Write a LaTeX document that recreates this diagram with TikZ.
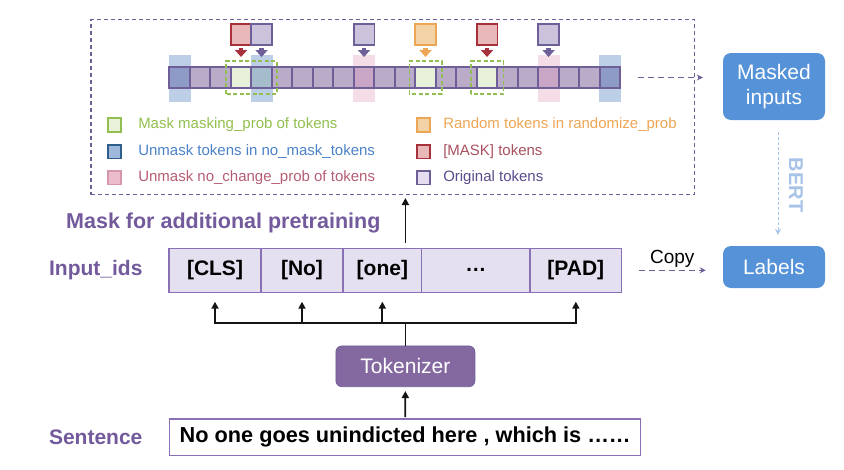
\documentclass[tikz,border=0pt]{standalone}
\usepackage{fontspec}
\setmainfont{Liberation Sans}
\usepackage{tikz}
\usetikzlibrary{arrows.meta, positioning, calc}
\definecolor{mypurple}{RGB}{115,90,156}
\definecolor{mydark}{RGB}{20,20,20}
\definecolor{tokline}{RGB}{111,95,153}
\definecolor{tokfill}{RGB}{186,172,201}
\definecolor{tokblue}{RGB}{142,155,199}
\definecolor{tokteal}{RGB}{164,188,203}
\definecolor{tokpink}{RGB}{201,166,197}
\definecolor{tokgreen}{RGB}{231,240,217}
\definecolor{hlblue}{RGB}{188,207,231}
\definecolor{hlpink}{RGB}{244,221,230}
\definecolor{mygreen}{RGB}{146,191,80}
\definecolor{myblue}{RGB}{74,130,200}
\definecolor{mydarkblue}{RGB}{47,93,140}
\definecolor{mypink}{RGB}{181,93,115}
\definecolor{myorange}{RGB}{237,166,85}
\definecolor{myred}{RGB}{167,48,58}
\definecolor{maskred}{RGB}{169,80,94}
\definecolor{origpurple}{RGB}{91,75,140}
\definecolor{hdrgreen}{RGB}{234,242,220}
\definecolor{hdrblue}{RGB}{159,185,220}
\definecolor{hdrpink}{RGB}{235,188,204}
\definecolor{linepink}{RGB}{214,150,172}
\definecolor{hdrorange}{RGB}{243,211,165}
\definecolor{hdrred}{RGB}{233,184,184}
\definecolor{hdrpurple}{RGB}{228,222,240}
\definecolor{sqpurple}{RGB}{203,194,220}
\definecolor{rowline}{RGB}{138,112,181}
\definecolor{rowfill}{RGB}{229,224,240}
\definecolor{tokzfill}{RGB}{132,105,161}
\definecolor{outblue}{RGB}{86,146,216}
\definecolor{bertblue}{RGB}{167,195,231}
\tikzset{
  tok/.style={rectangle, draw=tokline, fill=tokfill, line width=1.8pt,
    minimum width=20.5pt, minimum height=21.6pt, inner sep=0pt, outer sep=0pt},
  hl/.style={rectangle, minimum width=22pt, minimum height=46.5pt,
    inner sep=0pt, outer sep=0pt},
  pick/.style={rectangle, line width=1.8pt, minimum size=20.7pt, inner sep=0pt},
  pickarrow/.style={-{Triangle[width=12pt,length=7pt]}, line width=4.5pt,
    shorten <=2pt, shorten >=9.7pt},
  greenbox/.style={draw=mygreen, dash pattern=on 4pt off 2.5pt, line width=1.6pt},
  legsq/.style={rectangle, line width=1.6pt, minimum size=13.5pt, inner sep=0pt},
  legtext/.style={anchor=west, font=\fontsize{15}{17}\selectfont, inner sep=0pt},
  idcell/.style={rectangle, draw=rowline, fill=rowfill, line width=1.5pt,
    minimum height=44pt, inner sep=0pt, outer sep=0pt,
    font=\fontsize{21}{24}\selectfont\bfseries},
  sidelabel/.style={text=mypurple, font=\fontsize{21}{24}\selectfont\bfseries},
  outbox/.style={rectangle, fill=outblue, rounded corners=8pt, text=white,
    align=center, minimum width=102pt, font=\fontsize{21}{25}\selectfont},
  arrow/.style={-{Triangle[width=7pt,length=7pt]}, line width=1.8pt, color=mydark},
  line/.style={line width=1.8pt, color=mydark},
  dasharrow/.style={-{Stealth[width=6pt,length=6pt]}, line width=1pt,
    dash pattern=on 6pt off 4pt, color=tokline}
}

\begin{document}
\begin{tikzpicture}[x=1pt, y=-1pt, node distance=10pt and 23pt,
  tokzbox/.style={rectangle, draw=tokline, fill=tokzfill, rounded corners=6pt,
    minimum width=139pt, minimum height=40.7pt, text=white,
    font=\fontsize{21}{24}\selectfont, line width=0.8pt},
  sentbox/.style={rectangle, draw=rowline, fill=white, line width=1.5pt,
    minimum width=471pt, minimum height=36.7pt, inner sep=0pt,
    font=\fontsize{21.7}{24}\selectfont\bfseries}]
  \useasboundingbox (0,0) rectangle (844,469);

  % Masking frame
  \node[draw=tokline, dash pattern=on 4pt off 3pt, line width=1.2pt,
    minimum width=603.5pt, minimum height=175pt, outer sep=0pt] (frame) at (392.75,107) {};

  % Highlights behind the strip
  \foreach \i/\c in {0/hlblue, 4/hlblue, 21/hlblue, 9/hlpink, 18/hlpink}
    \node[hl, fill=\c] (hl\i) at ({179.55+20.5*\i}, 78.3) {};

  % Token strip
  \foreach \c [count=\i from 0] in {tokblue, tokfill, tokfill, tokgreen, tokteal,
      tokfill, tokfill, tokfill, tokfill, tokpink, tokfill, tokfill, tokgreen,
      tokfill, tokfill, tokgreen, tokfill, tokfill, tokpink, tokfill, tokfill, tokblue}
    \node[tok, fill=\c] (t\i) at ({179.55+20.5*\i}, 77.5) {};

  % Masked positions
  \draw[greenbox] ($(t3.south west)+(-5,5.5)$) rectangle ($(t4.north east)+(5,-5.5)$);
  \draw[greenbox] ($(t12.south west)+(-6,5.5)$) rectangle ($(t12.north east)+(6,-5.5)$);
  \draw[greenbox] ($(t15.south west)+(-6,5.5)$) rectangle ($(t15.north east)+(6,-5.5)$);

  % Replacement tokens
  \foreach \i/\f/\d in {3/hdrred/myred, 4/sqpurple/tokline, 9/sqpurple/tokline,
      12/hdrorange/myorange, 15/hdrred/myred, 18/sqpurple/tokline} {
    \node[pick, fill=\f, draw=\d] (p\i) at ({179.55+20.5*\i}, 34.7) {};
    \draw[pickarrow, color=\d] (p\i) -- (t\i);
  }

  % Legend
  \foreach \n/\y/\f/\d/\c/\txt in {1/125/hdrgreen/mygreen/mygreen/{Mask masking\_prob of tokens},
      2/151.7/hdrblue/mydarkblue/myblue/{Unmask tokens in no\_mask\_tokens},
      3/177.7/hdrpink/linepink/mypink/{Unmask no\_change\_prob of tokens}} {
    \node[legsq, fill=\f, draw=\d] (legL\n) at (114.5,\y) {};
    \node[legtext, text=\c, right=16pt of legL\n] (legLt\n) {\txt};
  }
  \foreach \n/\y/\f/\d/\c/\txt in {1/125/hdrorange/myorange/myorange/{Random tokens in randomize\_prob},
      2/151.7/hdrred/myred/maskred/{[MASK] tokens},
      3/177.7/hdrpurple/tokline/origpurple/{Original tokens}} {
    \node[legsq, fill=\f, draw=\d] (legR\n) at (423.5,\y) {};
    \node[legtext, text=\c, right=12pt of legR\n] (legRt\n) {\txt};
  }

  % Outputs
  \node[outbox, minimum height=67pt] (masked) at (774,86.5) {Masked\\inputs};
  \node[outbox, minimum height=42pt] (labels) at (774,267) {Labels};
  \draw[dasharrow, shorten <=18pt, shorten >=20pt] (t21.east) -- (t21.east -| masked.west);
  \draw[-{Stealth[width=6pt,length=6pt]}, line width=1pt, color=bertblue,
    dash pattern=on 3pt off 2pt, shorten <=12pt, shorten >=11pt]
    ([xshift=4pt]masked.south) -- ([xshift=4pt]labels.north)
    node[midway, xshift=18pt, yshift=-2pt, rotate=-90, text=bertblue,
      font=\fontsize{20}{24}\selectfont\bfseries] (bert) {BERT};

  % Input ids
  \node[idcell, minimum width=92pt] (cls) at (215,270.3) {[CLS]};
  \node[idcell, minimum width=82pt, right=0pt of cls] (no) {[No]};
  \node[idcell, minimum width=78.7pt, right=0pt of no] (one) {[one]};
  \node[idcell, minimum width=108.3pt, right=0pt of one] (dots) {…};
  \node[idcell, minimum width=91.7pt, right=0pt of dots] (pad) {[PAD]};
  \node[sidelabel, left=23pt of cls] (idlbl) {Input\_ids};
  \node[sidelabel, font=\fontsize{21.5}{24}\selectfont\bfseries] (masklbl) at (223.3,222.7) {Mask for additional pretraining};
  \draw[dasharrow, shorten <=17pt, shorten >=17pt] (pad.east) -- (pad.east -| labels.west)
    node[midway, above=2pt, inner sep=0pt, text=black, font=\fontsize{19}{22}\selectfont] (copy) {Copy};

  % Tokenizer and sentence
  \node[tokzbox] (tokz) at (405.4,366.3) {Tokenizer};
  \node[sentbox] (sent) at (405.2,437.3) {No one goes unindicted here , which is ……};
  \node[sidelabel, left=23pt of sent] (sentlbl) {Sentence};
  \draw[arrow, shorten <=5pt, shorten >=3.5pt] (tokz.north |- one.north) -- (tokz.north |- frame.south);

  % Fork
  \coordinate (fork) at (405.4,323.3);
  \draw[line] (tokz.north) -- (fork);
  \draw[arrow, shorten >=9.4pt] (fork) -| (cls.south);
  \draw[arrow, shorten >=9.4pt] (fork) -| (pad.south);
  \foreach \c in {no, one}
    \draw[arrow, shorten >=9.4pt] (fork -| \c) -- (\c.south);
  \draw[arrow, shorten <=1pt, shorten >=4pt] (sent.north) -- (tokz.south);
\end{tikzpicture}
\end{document}
